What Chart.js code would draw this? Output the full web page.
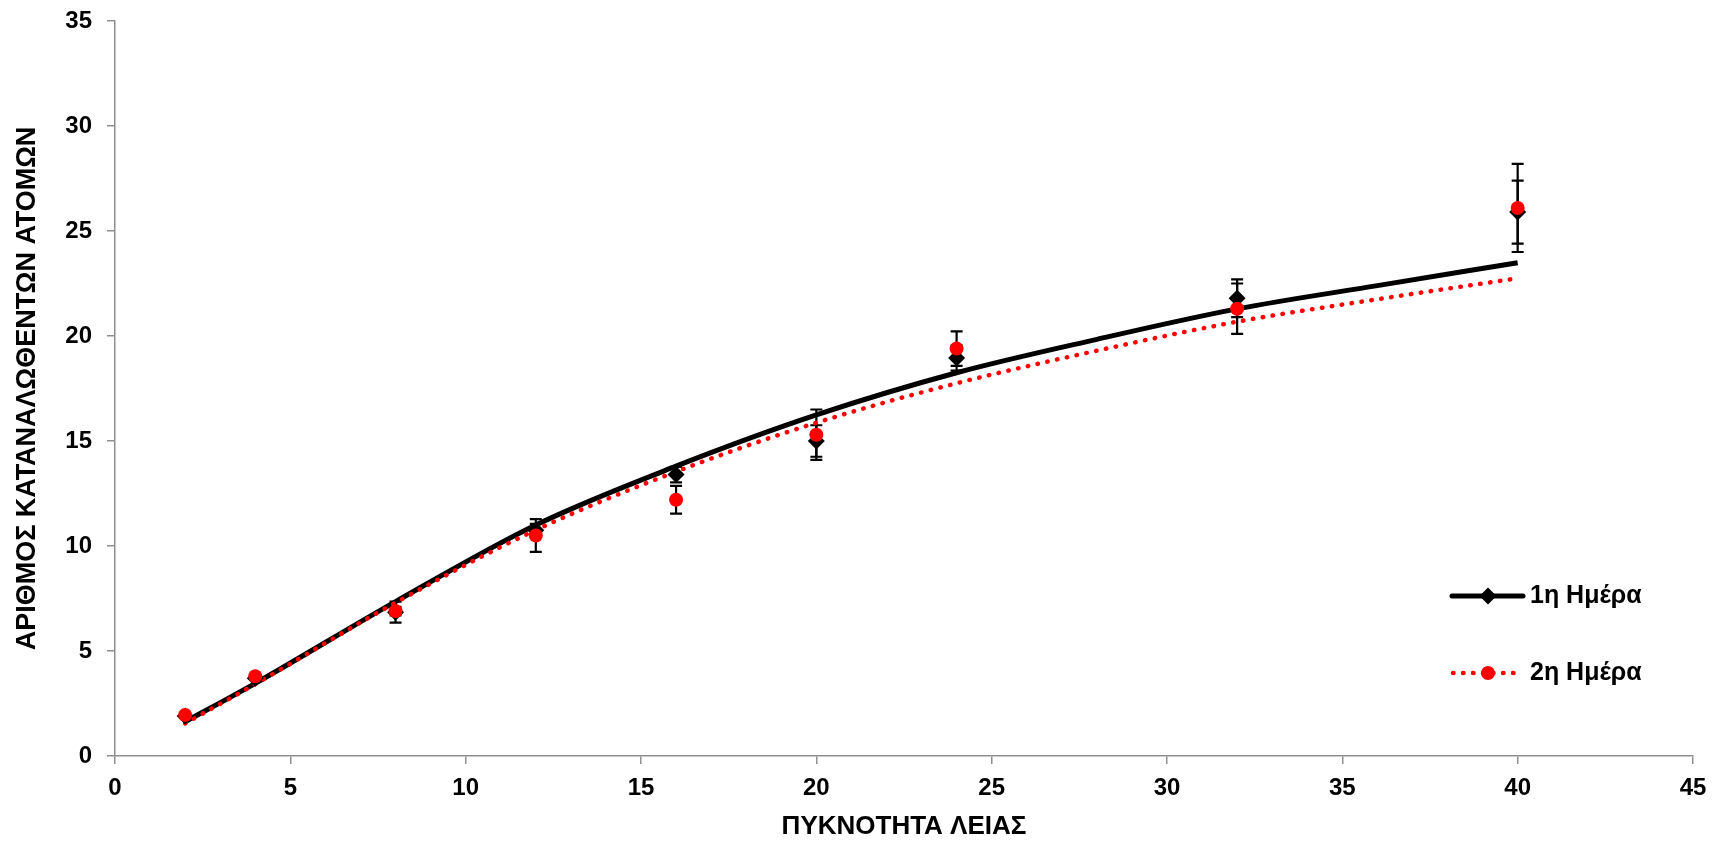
<!DOCTYPE html>
<html>
<head>
<meta charset="utf-8">
<script src="https://cdn.jsdelivr.net/npm/chart.js@4/dist/chart.umd.min.js"></script>
<style>
  html, body { margin: 0; padding: 0; background: #fff; }
  #wrap { width: 1724px; height: 842px; }
</style>
</head>
<body>
<div id="wrap"><canvas id="chart" width="1724" height="842"></canvas></div>
<script>
"use strict";

// measured points (prey density vs individuals eaten)
var density = [2, 4, 8, 12, 16, 20, 24, 32, 40];
var day1 = [1.9, 3.7, 6.85, 10.75, 13.4, 15.0, 18.95, 21.8, 25.9];
var day1Err = [0, 0, 0.5, 0.3, 0.37, 0.75, 0.6, 0.9, 1.5];
var day2 = [1.95, 3.8, 6.9, 10.5, 12.2, 15.3, 19.4, 21.3, 26.1];
var day2Err = [0, 0, 0.2, 0.78, 0.66, 1.2, 0.82, 1.2, 2.1];

// fitted curves
var fitX = [2, 4, 8, 12, 16, 20, 24, 28, 32, 36, 40];
var fitDay1 = [1.63, 3.46, 7.35, 11.0, 13.8, 16.24, 18.25, 19.84, 21.29, 22.4, 23.49];
var fitDay2 = [1.55, 3.42, 7.3, 10.76, 13.54, 15.87, 17.75, 19.3, 20.68, 21.75, 22.75];

var legendLabels = ["1η Ημέρα", "2η Ημέρα"];
var xTitle = "ΠΥΚΝΟΤΗΤΑ ΛΕΙΑΣ";
var yTitle = "ΑΡΙΘΜΟΣ ΚΑΤΑΝΑΛΩΘΕΝΤΩΝ ΑΤΟΜΩΝ";

var settings = {
    font: "'Liberation Sans', Arial, sans-serif",
    axisColor: "#8f8f8f",
    black: "#000000",
    red: "#ff0000"
};

function toPoints(xs, ys) {
    return xs.map(function (x, i) { return {x: x, y: ys[i]}; });
}

function drawDiamond(ctx, x, y, r, color) {
    ctx.beginPath();
    ctx.moveTo(x, y - r);
    ctx.lineTo(x + r, y);
    ctx.lineTo(x, y + r);
    ctx.lineTo(x - r, y);
    ctx.closePath();
    ctx.fillStyle = color;
    ctx.fill();
}

function drawDot(ctx, x, y, r, color) {
    ctx.beginPath();
    ctx.arc(x, y, r, 0, Math.PI * 2);
    ctx.fillStyle = color;
    ctx.fill();
}

// error bars, drawn under the markers
var errorBars = {
    id: "errorBars",
    beforeDatasetsDraw: function (chart) {
        var ctx = chart.ctx, xs = chart.scales.x, ys = chart.scales.y;
        ctx.save();
        ctx.strokeStyle = settings.black;
        ctx.lineWidth = 2.2;
        [[day1, day1Err], [day2, day2Err]].forEach(function (pair) {
            density.forEach(function (d, i) {
                var e = pair[1][i];
                if (!e) { return; }
                var px = xs.getPixelForValue(d),
                    top = ys.getPixelForValue(pair[0][i] + e),
                    bot = ys.getPixelForValue(pair[0][i] - e);
                ctx.beginPath();
                ctx.moveTo(px, top); ctx.lineTo(px, bot);
                ctx.moveTo(px - 6, top); ctx.lineTo(px + 6, top);
                ctx.moveTo(px - 6, bot); ctx.lineTo(px + 6, bot);
                ctx.stroke();
            });
        });
        ctx.restore();
    }
};

// legend inside the plot, lower right
var sideLegend = {
    id: "sideLegend",
    afterDraw: function (chart) {
        var ctx = chart.ctx, area = chart.chartArea,
            x0 = area.right - 241, y1 = area.top + 575, y2 = area.top + 652;
        ctx.save();
        ctx.lineWidth = 5;
        ctx.lineCap = "round";
        ctx.strokeStyle = settings.black;
        ctx.beginPath(); ctx.moveTo(x0, y1); ctx.lineTo(x0 + 71, y1); ctx.stroke();
        drawDiamond(ctx, x0 + 36, y1, 8.5, settings.black);

        ctx.strokeStyle = settings.red;
        ctx.lineWidth = 4.5;
        ctx.setLineDash([0.5, 9.5]);
        ctx.beginPath(); ctx.moveTo(x0 + 1, y2); ctx.lineTo(x0 + 67, y2); ctx.stroke();
        ctx.setLineDash([]);
        drawDot(ctx, x0 + 36, y2, 7, settings.red);

        ctx.fillStyle = settings.black;
        ctx.font = "bold 25px " + settings.font;
        ctx.textBaseline = "middle";
        ctx.fillText(legendLabels[0], x0 + 78, y1);
        ctx.fillText(legendLabels[1], x0 + 78, y2);
        ctx.restore();
    }
};

var ctx = document.getElementById("chart").getContext("2d");
window.chart = new Chart(ctx, {
    type: "scatter",
    data: {
        datasets: [
            {
                label: legendLabels[0] + " fit",
                data: toPoints(fitX, fitDay1),
                showLine: true,
                borderColor: settings.black,
                borderWidth: 5,
                pointRadius: 0,
                cubicInterpolationMode: "monotone",
                order: 3
            },
            {
                label: legendLabels[1] + " fit",
                data: toPoints(fitX, fitDay2),
                showLine: true,
                borderColor: settings.red,
                borderWidth: 4.5,
                borderDash: [0.5, 9.5],
                borderCapStyle: "round",
                pointRadius: 0,
                cubicInterpolationMode: "monotone",
                order: 2
            },
            {
                label: legendLabels[0],
                data: toPoints(density, day1),
                pointStyle: "rectRot",
                pointRadius: 8.5,
                backgroundColor: settings.black,
                borderColor: settings.black,
                borderWidth: 0,
                order: 1
            },
            {
                label: legendLabels[1],
                data: toPoints(density, day2),
                pointStyle: "circle",
                pointRadius: 7,
                backgroundColor: settings.red,
                borderColor: settings.red,
                borderWidth: 0,
                order: 0
            }
        ]
    },
    options: {
        responsive: false,
        animation: false,
        layout: { padding: { left: 0, top: 21, right: 31, bottom: 0 } },
        plugins: {
            legend: { display: false },
            tooltip: { enabled: false }
        },
        scales: {
            x: {
                type: "linear",
                min: 0,
                max: 45,
                ticks: {
                    stepSize: 5,
                    padding: 10,
                    color: settings.black,
                    font: { family: settings.font, size: 24, weight: "bold" }
                },
                grid: { drawOnChartArea: false, drawTicks: true, tickLength: 8, color: settings.axisColor, lineWidth: 1.5 },
                border: { color: settings.axisColor, width: 1.5 },
                title: {
                    display: true,
                    text: xTitle,
                    color: settings.black,
                    padding: { top: 0, bottom: 0 },
                    font: { family: settings.font, size: 26, weight: "bold" }
                },
                afterFit: function (scale) {
                    scale.height = 86;
                    scale.paddingLeft = 0;
                    scale.paddingRight = 0;
                }
            },
            y: {
                type: "linear",
                min: 0,
                max: 35,
                ticks: {
                    stepSize: 5,
                    padding: 15,
                    color: settings.black,
                    font: { family: settings.font, size: 24, weight: "bold" }
                },
                grid: { drawOnChartArea: false, drawTicks: true, tickLength: 8, color: settings.axisColor, lineWidth: 1.5 },
                border: { color: settings.axisColor, width: 1.5 },
                title: {
                    display: true,
                    text: yTitle,
                    color: settings.black,
                    padding: { top: 11, bottom: 0 },
                    font: { family: settings.font, size: 27, weight: "bold" }
                },
                afterFit: function (scale) {
                    scale.width = 115;
                    scale.paddingTop = 0;
                    scale.paddingBottom = 0;
                }
            }
        }
    },
    plugins: [errorBars, sideLegend]
});
</script>
</body>
</html>
